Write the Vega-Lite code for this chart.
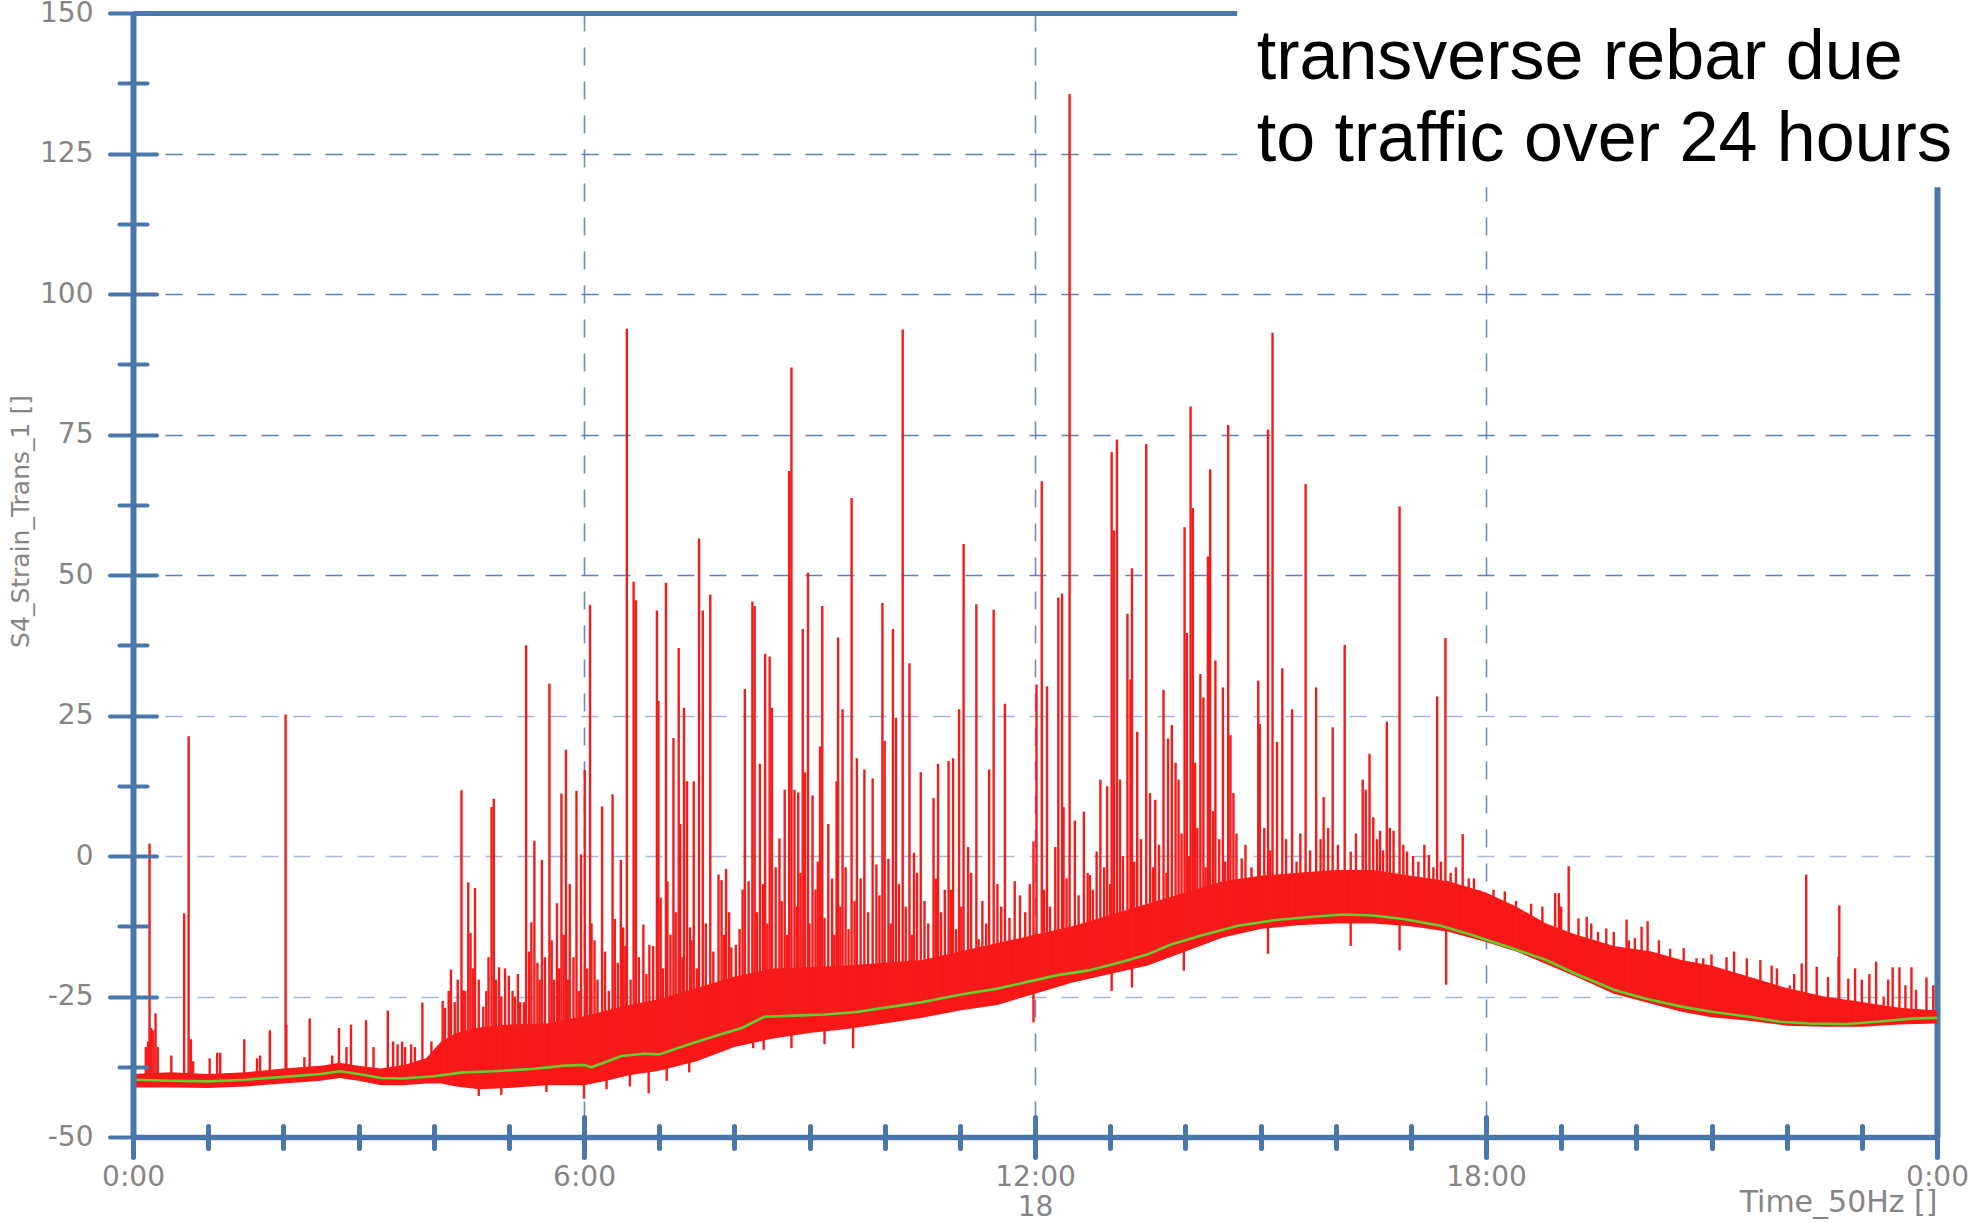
{
  "$schema": "https://vega.github.io/schema/vega-lite/v6.json",
  "width": 1804,
  "height": 1124,
  "autosize": "none",
  "padding": {"left": 133, "top": 13, "right": 33, "bottom": 86},
  "background": "white",
  "config": {
    "view": {"stroke": null},
    "axis": {"titleFontWeight": "normal", "labelFont": "DejaVu Sans", "titleFont": "DejaVu Sans"}
  },
  "datasets": {
    "trend": [
      {"t": 0, "v": -39.8}, {"t": 0.5, "v": -40.0}, {"t": 1, "v": -40.1}, {"t": 1.5, "v": -39.8},
      {"t": 2, "v": -39.3}, {"t": 2.5, "v": -38.8}, {"t": 2.75, "v": -38.3}, {"t": 3.0, "v": -38.8},
      {"t": 3.3, "v": -39.5}, {"t": 3.6, "v": -39.6}, {"t": 4.0, "v": -39.2}, {"t": 4.4, "v": -38.5},
      {"t": 4.8, "v": -38.3}, {"t": 5.3, "v": -37.9}, {"t": 5.75, "v": -37.3}, {"t": 6.0, "v": -37.2},
      {"t": 6.1, "v": -37.6}, {"t": 6.5, "v": -35.6}, {"t": 6.8, "v": -35.2}, {"t": 7.0, "v": -35.3},
      {"t": 7.4, "v": -33.5}, {"t": 7.8, "v": -31.8}, {"t": 8.1, "v": -30.6}, {"t": 8.4, "v": -28.6},
      {"t": 8.8, "v": -28.4}, {"t": 9.2, "v": -28.2}, {"t": 9.6, "v": -27.8}, {"t": 10.1, "v": -26.8},
      {"t": 10.5, "v": -26.0}, {"t": 11.0, "v": -24.7}, {"t": 11.5, "v": -23.6}, {"t": 11.9, "v": -22.4},
      {"t": 12.3, "v": -21.2}, {"t": 12.7, "v": -20.4}, {"t": 13.2, "v": -18.7}, {"t": 13.5, "v": -17.5},
      {"t": 13.8, "v": -15.8}, {"t": 14.2, "v": -14.2}, {"t": 14.7, "v": -12.4}, {"t": 15.2, "v": -11.4},
      {"t": 15.7, "v": -10.8}, {"t": 16.1, "v": -10.4}, {"t": 16.5, "v": -10.6}, {"t": 16.9, "v": -11.2},
      {"t": 17.4, "v": -12.4}, {"t": 17.8, "v": -14.0}, {"t": 18.3, "v": -16.2}, {"t": 18.8, "v": -18.5},
      {"t": 19.2, "v": -21.0}, {"t": 19.7, "v": -23.8}, {"t": 20.1, "v": -25.3}, {"t": 20.6, "v": -26.8},
      {"t": 21.0, "v": -27.7}, {"t": 21.5, "v": -28.6}, {"t": 21.9, "v": -29.5}, {"t": 22.3, "v": -29.8},
      {"t": 22.8, "v": -29.9}, {"t": 23.2, "v": -29.5}, {"t": 23.7, "v": -28.9}, {"t": 24.0, "v": -28.8}
    ],
    "band": [
      {"t": 0, "lo": -41.2, "hi": -38.8}, {"t": 0.5, "lo": -41.2, "hi": -38.5}, {"t": 1, "lo": -41.3, "hi": -38.8},
      {"t": 1.5, "lo": -41.0, "hi": -38.5}, {"t": 2, "lo": -40.5, "hi": -37.8}, {"t": 2.5, "lo": -40.0, "hi": -37.3},
      {"t": 2.75, "lo": -39.5, "hi": -36.8}, {"t": 3.0, "lo": -40.0, "hi": -37.3}, {"t": 3.3, "lo": -40.8, "hi": -37.8},
      {"t": 3.6, "lo": -40.8, "hi": -37.2}, {"t": 3.9, "lo": -40.5, "hi": -36.0}, {"t": 4.1, "lo": -40.5, "hi": -33.0},
      {"t": 4.3, "lo": -41.0, "hi": -31.5}, {"t": 4.6, "lo": -41.5, "hi": -30.5}, {"t": 5.0, "lo": -41.3, "hi": -30.0},
      {"t": 5.5, "lo": -40.8, "hi": -29.8}, {"t": 6.0, "lo": -40.8, "hi": -28.5}, {"t": 6.3, "lo": -40.0, "hi": -27.5},
      {"t": 6.6, "lo": -39.0, "hi": -26.5}, {"t": 7.0, "lo": -38.2, "hi": -25.5}, {"t": 7.5, "lo": -36.5, "hi": -23.5},
      {"t": 8.0, "lo": -34.0, "hi": -21.5}, {"t": 8.5, "lo": -32.5, "hi": -20.0}, {"t": 9.0, "lo": -31.5, "hi": -19.8},
      {"t": 9.5, "lo": -30.8, "hi": -19.5}, {"t": 10.0, "lo": -29.8, "hi": -19.0}, {"t": 10.5, "lo": -28.8, "hi": -18.5},
      {"t": 11.0, "lo": -27.5, "hi": -17.0}, {"t": 11.5, "lo": -26.5, "hi": -15.5}, {"t": 12.0, "lo": -24.5, "hi": -14.0},
      {"t": 12.5, "lo": -22.5, "hi": -12.5}, {"t": 13.0, "lo": -21.0, "hi": -10.5}, {"t": 13.5, "lo": -19.5, "hi": -8.5},
      {"t": 14.0, "lo": -17.0, "hi": -6.5}, {"t": 14.5, "lo": -14.5, "hi": -4.5}, {"t": 15.0, "lo": -13.0, "hi": -3.5},
      {"t": 15.5, "lo": -12.3, "hi": -3.0}, {"t": 16.0, "lo": -12.0, "hi": -2.5}, {"t": 16.5, "lo": -12.0, "hi": -2.5},
      {"t": 17.0, "lo": -12.5, "hi": -3.5}, {"t": 17.5, "lo": -13.5, "hi": -4.5}, {"t": 18.0, "lo": -15.3, "hi": -6.5},
      {"t": 18.4, "lo": -17.0, "hi": -9.0}, {"t": 18.8, "lo": -19.2, "hi": -12.0}, {"t": 19.2, "lo": -21.5, "hi": -14.0},
      {"t": 19.7, "lo": -24.5, "hi": -16.0}, {"t": 20.2, "lo": -26.3, "hi": -17.0}, {"t": 20.6, "lo": -27.7, "hi": -18.5},
      {"t": 21.0, "lo": -28.7, "hi": -19.5}, {"t": 21.5, "lo": -29.3, "hi": -21.5}, {"t": 22.0, "lo": -30.2, "hi": -23.5},
      {"t": 22.5, "lo": -30.4, "hi": -25.0}, {"t": 23.0, "lo": -30.4, "hi": -26.0}, {"t": 23.5, "lo": -30.0, "hi": -27.0},
      {"t": 24.0, "lo": -29.8, "hi": -27.5}
    ],
    "spikes": [
      {"t": 0.17, "lo": -40, "hi": -34}, {"t": 0.2, "lo": -40, "hi": -33}, {"t": 0.22, "lo": -40, "hi": 2.2},
      {"t": 0.24, "lo": -40, "hi": -30.6}, {"t": 0.27, "lo": -40, "hi": -31}, {"t": 0.3, "lo": -40, "hi": -28},
      {"t": 0.33, "lo": -40, "hi": -34}, {"t": 0.51, "lo": -40, "hi": -35.5}, {"t": 0.68, "lo": -40, "hi": -10.2},
      {"t": 0.74, "lo": -40, "hi": 21.3}, {"t": 0.77, "lo": -40, "hi": -32.6}, {"t": 0.8, "lo": -40, "hi": -36.5},
      {"t": 1.02, "lo": -40, "hi": -36}, {"t": 1.12, "lo": -40, "hi": -35}, {"t": 1.16, "lo": -40, "hi": -35},
      {"t": 1.48, "lo": -40, "hi": -32.6}, {"t": 1.65, "lo": -39.8, "hi": -36}, {"t": 1.69, "lo": -39.8, "hi": -35.5},
      {"t": 1.82, "lo": -39.6, "hi": -31}, {"t": 2.03, "lo": -39.3, "hi": 25.2}, {"t": 2.04, "lo": -39.3, "hi": -30},
      {"t": 2.28, "lo": -39, "hi": -35.8}, {"t": 2.35, "lo": -39, "hi": -28.9}, {"t": 2.65, "lo": -38.5, "hi": -35.5},
      {"t": 2.74, "lo": -38.3, "hi": -30.6}, {"t": 2.84, "lo": -38.4, "hi": -34}, {"t": 2.9, "lo": -38.5, "hi": -30},
      {"t": 3.1, "lo": -39, "hi": -29.2}, {"t": 3.2, "lo": -39.3, "hi": -34}, {"t": 3.39, "lo": -39.5, "hi": -27.5},
      {"t": 3.46, "lo": -39.5, "hi": -33}, {"t": 3.52, "lo": -39.5, "hi": -33.5}, {"t": 3.58, "lo": -39.5, "hi": -33},
      {"t": 3.62, "lo": -39.5, "hi": -34}, {"t": 3.7, "lo": -39.5, "hi": -33.5}, {"t": 3.75, "lo": -39.5, "hi": -34},
      {"t": 3.85, "lo": -39.3, "hi": -26.1}, {"t": 3.97, "lo": -39.2, "hi": -33},
      {"t": 4.12, "lo": -39, "hi": -25.8}, {"t": 4.23, "lo": -39, "hi": -20.2}, {"t": 4.37, "lo": -38.6, "hi": 11.7},
      {"t": 4.39, "lo": -38.6, "hi": -23.9}, {"t": 4.46, "lo": -38.5, "hi": -4.7}, {"t": 4.49, "lo": -38.5, "hi": -13.7},
      {"t": 4.55, "lo": -38.5, "hi": -5.7}, {"t": 4.66, "lo": -38.4, "hi": -26.8}, {"t": 4.77, "lo": -38.4, "hi": 8.7},
      {"t": 4.8, "lo": -38.4, "hi": 10.2}, {"t": 4.87, "lo": -38.3, "hi": -19.8}, {"t": 5.0, "lo": -38.2, "hi": -21.3},
      {"t": 5.08, "lo": -38.1, "hi": -25}, {"t": 5.15, "lo": -38, "hi": -26}, {"t": 5.23, "lo": -38, "hi": 37.5},
      {"t": 5.3, "lo": -37.9, "hi": -11.8}, {"t": 5.34, "lo": -37.9, "hi": 2.7}, {"t": 5.38, "lo": -37.9, "hi": -19},
      {"t": 5.44, "lo": -37.8, "hi": -0.7}, {"t": 5.54, "lo": -37.6, "hi": 30.7}, {"t": 5.6, "lo": -37.5, "hi": -22},
      {"t": 5.64, "lo": -37.5, "hi": -8.4}, {"t": 5.7, "lo": -37.4, "hi": 11.1}, {"t": 5.76, "lo": -37.3, "hi": 18.9},
      {"t": 5.81, "lo": -37.3, "hi": -5}, {"t": 5.9, "lo": -37.2, "hi": 11.6}, {"t": 5.96, "lo": -37.2, "hi": 0.3},
      {"t": 6.01, "lo": -37.2, "hi": 15.3}, {"t": 6.08, "lo": -37.4, "hi": 44.7}, {"t": 6.14, "lo": -37.5, "hi": -15},
      {"t": 6.24, "lo": -37, "hi": 8.8}, {"t": 6.38, "lo": -36.2, "hi": 11}, {"t": 6.41, "lo": -36, "hi": -11.2},
      {"t": 6.49, "lo": -35.8, "hi": -0.7}, {"t": 6.52, "lo": -35.7, "hi": -12.7}, {"t": 6.57, "lo": -35.6, "hi": 93.8},
      {"t": 6.66, "lo": -35.4, "hi": 48.8}, {"t": 6.69, "lo": -35.3, "hi": 45.5}, {"t": 6.79, "lo": -35.2, "hi": -12.2},
      {"t": 6.87, "lo": -35.2, "hi": -15.8}, {"t": 6.97, "lo": -35.2, "hi": 43.7}, {"t": 6.99, "lo": -35.2, "hi": 27.6},
      {"t": 7.02, "lo": -35.3, "hi": -7.4}, {"t": 7.09, "lo": -35.3, "hi": 48.6}, {"t": 7.11, "lo": -35.2, "hi": -4.5},
      {"t": 7.19, "lo": -34.8, "hi": 21}, {"t": 7.26, "lo": -34.4, "hi": 37}, {"t": 7.28, "lo": -34.3, "hi": 5.7},
      {"t": 7.33, "lo": -34, "hi": 26.4}, {"t": 7.37, "lo": -33.8, "hi": 13.3}, {"t": 7.41, "lo": -33.6, "hi": -12.7},
      {"t": 7.46, "lo": -33.4, "hi": 13.3}, {"t": 7.53, "lo": -33.1, "hi": 56.5}, {"t": 7.58, "lo": -32.9, "hi": 43.7},
      {"t": 7.68, "lo": -32.4, "hi": 46.5}, {"t": 7.79, "lo": -31.9, "hi": -3.3}, {"t": 7.83, "lo": -31.7, "hi": -4.3},
      {"t": 7.89, "lo": -31.4, "hi": -2.3}, {"t": 7.96, "lo": -31.1, "hi": -16.3}, {"t": 8.02, "lo": -30.9, "hi": -15.8},
      {"t": 8.14, "lo": -30.4, "hi": 29.7}, {"t": 8.19, "lo": -30.1, "hi": -4.5}, {"t": 8.24, "lo": -29.8, "hi": 45.3},
      {"t": 8.27, "lo": -29.6, "hi": 44.5}, {"t": 8.34, "lo": -29.2, "hi": 16.4}, {"t": 8.41, "lo": -28.7, "hi": 36},
      {"t": 8.47, "lo": -28.6, "hi": 35.5}, {"t": 8.5, "lo": -28.6, "hi": 26.4}, {"t": 8.6, "lo": -28.5, "hi": 3.1},
      {"t": 8.67, "lo": -28.5, "hi": 11.8}, {"t": 8.73, "lo": -28.4, "hi": 68.5}, {"t": 8.76, "lo": -28.4, "hi": 86.9},
      {"t": 8.8, "lo": -28.4, "hi": 11.8}, {"t": 8.85, "lo": -28.4, "hi": 11.3}, {"t": 8.91, "lo": -28.3, "hi": 40.4},
      {"t": 8.94, "lo": -28.3, "hi": 14.9}, {"t": 8.98, "lo": -28.3, "hi": 50.4}, {"t": 9.04, "lo": -28.3, "hi": 10.8},
      {"t": 9.14, "lo": -28.2, "hi": 19.5}, {"t": 9.17, "lo": -28.2, "hi": 44.5}, {"t": 9.25, "lo": -28.1, "hi": 5.7},
      {"t": 9.36, "lo": -28, "hi": 13.3}, {"t": 9.38, "lo": -28, "hi": 38.9}, {"t": 9.44, "lo": -27.9, "hi": 26.1},
      {"t": 9.56, "lo": -27.8, "hi": 63.7}, {"t": 9.63, "lo": -27.7, "hi": 17.4}, {"t": 9.73, "lo": -27.5, "hi": 15.4},
      {"t": 9.84, "lo": -27.3, "hi": 13.8}, {"t": 9.89, "lo": -27.2, "hi": -1.5}, {"t": 9.97, "lo": -27, "hi": 45},
      {"t": 10.0, "lo": -27, "hi": 20.5}, {"t": 10.05, "lo": -26.9, "hi": -0.5}, {"t": 10.11, "lo": -26.8, "hi": 40.4},
      {"t": 10.15, "lo": -26.7, "hi": 24.6}, {"t": 10.24, "lo": -26.6, "hi": 93.7}, {"t": 10.33, "lo": -26.4, "hi": 34.3},
      {"t": 10.39, "lo": -26.3, "hi": 0.6}, {"t": 10.48, "lo": -26.1, "hi": 14.9}, {"t": 10.65, "lo": -25.7, "hi": 10.3},
      {"t": 10.71, "lo": -25.6, "hi": 16.4}, {"t": 10.8, "lo": -25.4, "hi": -6}, {"t": 10.85, "lo": -25.3, "hi": 16.9},
      {"t": 10.91, "lo": -25.1, "hi": 17.4}, {"t": 10.99, "lo": -24.9, "hi": 26.1}, {"t": 11.05, "lo": -24.7, "hi": 55.5},
      {"t": 11.11, "lo": -24.6, "hi": 1.6}, {"t": 11.22, "lo": -24.3, "hi": 44.8}, {"t": 11.25, "lo": -24.3, "hi": -14.8},
      {"t": 11.39, "lo": -23.9, "hi": 15.4}, {"t": 11.45, "lo": -23.8, "hi": 43.8}, {"t": 11.6, "lo": -23.4, "hi": 27.1},
      {"t": 11.73, "lo": -23, "hi": -4.5}, {"t": 11.98, "lo": -22.2, "hi": 2.6}, {"t": 12.02, "lo": -22.1, "hi": 30.5},
      {"t": 12.09, "lo": -21.9, "hi": 66.7}, {"t": 12.16, "lo": -21.7, "hi": 30.2}, {"t": 12.27, "lo": -21.3, "hi": 1.6},
      {"t": 12.31, "lo": -21.2, "hi": 46}, {"t": 12.36, "lo": -21.1, "hi": 46.7}, {"t": 12.38, "lo": -21, "hi": 8.7},
      {"t": 12.46, "lo": -20.8, "hi": 135.6}, {"t": 12.53, "lo": -20.7, "hi": 6.3}, {"t": 12.65, "lo": -20.4, "hi": 7.9},
      {"t": 12.73, "lo": -20.2, "hi": -3.4}, {"t": 12.82, "lo": -20, "hi": 0.8}, {"t": 12.87, "lo": -19.9, "hi": 13.6},
      {"t": 12.96, "lo": -19.6, "hi": 12.4}, {"t": 13.02, "lo": -19.4, "hi": 71.9}, {"t": 13.05, "lo": -19.3, "hi": 57.9},
      {"t": 13.09, "lo": -19.2, "hi": 74.1}, {"t": 13.13, "lo": -19.1, "hi": 13.6}, {"t": 13.23, "lo": -18.7, "hi": 43.1},
      {"t": 13.27, "lo": -18.6, "hi": 31.4}, {"t": 13.29, "lo": -18.5, "hi": 51.2}, {"t": 13.36, "lo": -18.1, "hi": 22.1},
      {"t": 13.48, "lo": -17.6, "hi": 73.3}, {"t": 13.53, "lo": -17.4, "hi": 11.2}, {"t": 13.6, "lo": -17, "hi": 10},
      {"t": 13.71, "lo": -16.3, "hi": 29.6}, {"t": 13.77, "lo": -16, "hi": 20.9}, {"t": 13.82, "lo": -15.7, "hi": 23.3},
      {"t": 13.87, "lo": -15.5, "hi": 16.6}, {"t": 13.91, "lo": -15.3, "hi": 13.6}, {"t": 13.99, "lo": -15, "hi": 58.5},
      {"t": 14.02, "lo": -14.9, "hi": 39.7}, {"t": 14.07, "lo": -14.6, "hi": 80}, {"t": 14.1, "lo": -14.5, "hi": 61.9},
      {"t": 14.13, "lo": -14.4, "hi": 16.6}, {"t": 14.2, "lo": -14.2, "hi": 32.4}, {"t": 14.24, "lo": -14, "hi": 28.2},
      {"t": 14.3, "lo": -13.8, "hi": 53.3}, {"t": 14.33, "lo": -13.7, "hi": 68.8}, {"t": 14.4, "lo": -13.5, "hi": 34.8},
      {"t": 14.5, "lo": -13, "hi": 30}, {"t": 14.57, "lo": -12.8, "hi": 76.7}, {"t": 14.6, "lo": -12.7, "hi": 21.5},
      {"t": 14.64, "lo": -12.6, "hi": 11.2}, {"t": 14.75, "lo": -12.3, "hi": -0.4}, {"t": 14.97, "lo": -11.9, "hi": 31.2},
      {"t": 14.99, "lo": -11.9, "hi": 23.5}, {"t": 15.1, "lo": -11.6, "hi": 75.9}, {"t": 15.16, "lo": -11.5, "hi": 93.1},
      {"t": 15.22, "lo": -11.4, "hi": 20.3}, {"t": 15.29, "lo": -11.3, "hi": 33.4}, {"t": 15.42, "lo": -11.1, "hi": 26.1},
      {"t": 15.6, "lo": -10.9, "hi": 66.2}, {"t": 15.74, "lo": -10.8, "hi": 30}, {"t": 15.84, "lo": -10.7, "hi": 10.5},
      {"t": 15.96, "lo": -10.5, "hi": 22.9}, {"t": 16.12, "lo": -10.4, "hi": 37.6}, {"t": 16.2, "lo": -10.4, "hi": 0.8},
      {"t": 16.36, "lo": -10.5, "hi": 13.6}, {"t": 16.4, "lo": -10.5, "hi": 11.8}, {"t": 16.45, "lo": -10.5, "hi": 18.2},
      {"t": 16.5, "lo": -10.6, "hi": 6.9}, {"t": 16.59, "lo": -10.7, "hi": 4.5}, {"t": 16.68, "lo": -10.8, "hi": 23.9},
      {"t": 16.77, "lo": -10.9, "hi": 4.5}, {"t": 16.85, "lo": -11, "hi": 62.2}, {"t": 16.95, "lo": -11.2, "hi": 0.8},
      {"t": 17.24, "lo": -11.9, "hi": 0.2}, {"t": 17.35, "lo": -12.2, "hi": 28.4}, {"t": 17.46, "lo": -12.5, "hi": 38.8},
      {"t": 17.69, "lo": -13.5, "hi": 3.9}, {"t": 17.84, "lo": -14, "hi": -4}, {"t": 17.92, "lo": -14, "hi": -6.1},
      {"t": 18.25, "lo": -16, "hi": -6.3}, {"t": 18.92, "lo": -19, "hi": -6.6}, {"t": 18.97, "lo": -19.2, "hi": -6.6},
      {"t": 19.1, "lo": -20, "hi": -1.8}, {"t": 19.23, "lo": -21, "hi": -11.1}, {"t": 19.34, "lo": -21.8, "hi": -10.8},
      {"t": 19.49, "lo": -22.7, "hi": -13.5}, {"t": 19.6, "lo": -23.3, "hi": -12.9}, {"t": 19.87, "lo": -24.4, "hi": -11.3},
      {"t": 19.98, "lo": -24.8, "hi": -14.6}, {"t": 20.07, "lo": -25.1, "hi": -12.6}, {"t": 20.15, "lo": -25.3, "hi": -11.6},
      {"t": 20.63, "lo": -26.9, "hi": -16.4}, {"t": 20.8, "lo": -27.2, "hi": -18.2}, {"t": 20.89, "lo": -27.4, "hi": -18.2},
      {"t": 21.47, "lo": -28.6, "hi": -18.2}, {"t": 21.65, "lo": -28.9, "hi": -18.5}, {"t": 21.87, "lo": -29.4, "hi": -20},
      {"t": 22.04, "lo": -29.6, "hi": -23}, {"t": 22.2, "lo": -29.7, "hi": -19.1}, {"t": 22.26, "lo": -29.7, "hi": -3.3},
      {"t": 22.4, "lo": -29.8, "hi": -19.7}, {"t": 22.69, "lo": -29.9, "hi": -17.9}, {"t": 22.7, "lo": -29.9, "hi": -8.8},
      {"t": 22.82, "lo": -29.9, "hi": -21.8}, {"t": 22.91, "lo": -29.8, "hi": -20}, {"t": 23.19, "lo": -29.5, "hi": -18.8},
      {"t": 23.29, "lo": -29.4, "hi": -25}, {"t": 23.41, "lo": -29.2, "hi": -19.8}, {"t": 23.5, "lo": -29.1, "hi": -19.8},
      {"t": 23.66, "lo": -28.9, "hi": -19.8}, {"t": 23.72, "lo": -28.9, "hi": -23.8}, {"t": 23.86, "lo": -28.8, "hi": -21.6},
      {"t": 4.15, "lo": -39, "hi": -27}, {"t": 4.2, "lo": -39, "hi": -24}, {"t": 4.28, "lo": -38.8, "hi": -26},
      {"t": 4.32, "lo": -38.8, "hi": -22}, {"t": 4.42, "lo": -38.6, "hi": -24}, {"t": 4.52, "lo": -38.5, "hi": -20},
      {"t": 4.6, "lo": -38.5, "hi": -22}, {"t": 4.7, "lo": -38.4, "hi": -24}, {"t": 4.73, "lo": -38.4, "hi": -18},
      {"t": 4.83, "lo": -38.3, "hi": -22}, {"t": 4.9, "lo": -38.3, "hi": -25}, {"t": 4.95, "lo": -38.2, "hi": -20},
      {"t": 5.05, "lo": -38.1, "hi": -24}, {"t": 5.12, "lo": -38, "hi": -21}, {"t": 5.2, "lo": -38, "hi": -26},
      {"t": 5.27, "lo": -37.9, "hi": -17}, {"t": 5.41, "lo": -37.8, "hi": -22}, {"t": 5.48, "lo": -37.7, "hi": -18},
      {"t": 5.57, "lo": -37.6, "hi": -15}, {"t": 5.67, "lo": -37.4, "hi": -20}, {"t": 5.73, "lo": -37.3, "hi": -14},
      {"t": 5.79, "lo": -37.3, "hi": -22}, {"t": 5.86, "lo": -37.2, "hi": -18}, {"t": 5.93, "lo": -37.2, "hi": -24},
      {"t": 6.04, "lo": -37.3, "hi": -20}, {"t": 6.1, "lo": -37.5, "hi": -12}, {"t": 6.18, "lo": -37.2, "hi": -22},
      {"t": 6.28, "lo": -36.7, "hi": -17}, {"t": 6.33, "lo": -36.5, "hi": -24}, {"t": 6.45, "lo": -36, "hi": -19},
      {"t": 6.55, "lo": -35.6, "hi": -16}, {"t": 6.62, "lo": -35.5, "hi": -22}, {"t": 6.73, "lo": -35.3, "hi": -18},
      {"t": 6.83, "lo": -35.2, "hi": -21}, {"t": 6.92, "lo": -35.2, "hi": -16}, {"t": 7.05, "lo": -35.2, "hi": -20},
      {"t": 7.15, "lo": -35, "hi": -14}, {"t": 7.22, "lo": -34.6, "hi": -10}, {"t": 7.31, "lo": -34.1, "hi": -18},
      {"t": 7.43, "lo": -33.5, "hi": -15}, {"t": 7.5, "lo": -33.2, "hi": -20}, {"t": 7.62, "lo": -32.7, "hi": -12},
      {"t": 7.72, "lo": -32.2, "hi": -17}, {"t": 7.86, "lo": -31.6, "hi": -14}, {"t": 7.93, "lo": -31.2, "hi": -10},
      {"t": 8.07, "lo": -30.7, "hi": -13}, {"t": 8.11, "lo": -30.5, "hi": -6}, {"t": 8.3, "lo": -29.4, "hi": -10},
      {"t": 8.38, "lo": -28.9, "hi": -5}, {"t": 8.44, "lo": -28.6, "hi": -12}, {"t": 8.55, "lo": -28.5, "hi": -2},
      {"t": 8.63, "lo": -28.5, "hi": -8}, {"t": 8.7, "lo": -28.4, "hi": -14}, {"t": 8.83, "lo": -28.4, "hi": -9},
      {"t": 8.88, "lo": -28.3, "hi": -3}, {"t": 9.0, "lo": -28.3, "hi": -12}, {"t": 9.08, "lo": -28.2, "hi": -6},
      {"t": 9.11, "lo": -28.2, "hi": -1}, {"t": 9.2, "lo": -28.2, "hi": -11}, {"t": 9.3, "lo": -28.1, "hi": -4},
      {"t": 9.33, "lo": -28, "hi": -14}, {"t": 9.41, "lo": -27.9, "hi": -9}, {"t": 9.48, "lo": -27.9, "hi": -2},
      {"t": 9.52, "lo": -27.8, "hi": -13}, {"t": 9.6, "lo": -27.8, "hi": -8}, {"t": 9.68, "lo": -27.6, "hi": -4},
      {"t": 9.78, "lo": -27.4, "hi": -10}, {"t": 9.93, "lo": -27.1, "hi": -7}, {"t": 10.08, "lo": -26.8, "hi": -12},
      {"t": 10.19, "lo": -26.6, "hi": -5}, {"t": 10.28, "lo": -26.5, "hi": -9}, {"t": 10.36, "lo": -26.3, "hi": -14},
      {"t": 10.43, "lo": -26.2, "hi": -3}, {"t": 10.53, "lo": -26, "hi": -8}, {"t": 10.58, "lo": -25.9, "hi": -12},
      {"t": 10.68, "lo": -25.6, "hi": -4}, {"t": 10.75, "lo": -25.5, "hi": -10}, {"t": 10.88, "lo": -25.2, "hi": -6},
      {"t": 10.95, "lo": -25, "hi": -13}, {"t": 11.02, "lo": -24.7, "hi": -9}, {"t": 11.15, "lo": -24.4, "hi": -3},
      {"t": 11.3, "lo": -24.1, "hi": -8}, {"t": 11.35, "lo": -24, "hi": -12}, {"t": 11.5, "lo": -23.6, "hi": -5},
      {"t": 11.55, "lo": -23.5, "hi": -9}, {"t": 11.66, "lo": -23.2, "hi": -11}, {"t": 11.8, "lo": -22.7, "hi": -7},
      {"t": 11.87, "lo": -22.5, "hi": -10}, {"t": 11.93, "lo": -22.3, "hi": -5}, {"t": 12.12, "lo": -21.8, "hi": -6},
      {"t": 12.2, "lo": -21.5, "hi": -9}, {"t": 12.42, "lo": -20.9, "hi": -4}, {"t": 12.58, "lo": -20.6, "hi": -7},
      {"t": 12.7, "lo": -20.4, "hi": -3}, {"t": 12.77, "lo": -20.1, "hi": -6}, {"t": 12.92, "lo": -19.8, "hi": -2},
      {"t": 13.0, "lo": -19.4, "hi": -5}, {"t": 13.17, "lo": -18.9, "hi": 0}, {"t": 13.32, "lo": -18.3, "hi": -1},
      {"t": 13.41, "lo": -17.9, "hi": 3}, {"t": 13.57, "lo": -17.1, "hi": -2}, {"t": 13.65, "lo": -16.7, "hi": 2},
      {"t": 13.75, "lo": -16.1, "hi": -3}, {"t": 13.95, "lo": -15.1, "hi": 4}, {"t": 14.05, "lo": -14.7, "hi": 0},
      {"t": 14.16, "lo": -14.3, "hi": 5}, {"t": 14.27, "lo": -13.9, "hi": -2}, {"t": 14.37, "lo": -13.6, "hi": 8},
      {"t": 14.45, "lo": -13.2, "hi": 3}, {"t": 14.53, "lo": -12.9, "hi": -1}, {"t": 14.68, "lo": -12.5, "hi": 4},
      {"t": 14.8, "lo": -12.2, "hi": 2}, {"t": 14.88, "lo": -12, "hi": -2}, {"t": 15.05, "lo": -11.7, "hi": 5},
      {"t": 15.13, "lo": -11.6, "hi": 1}, {"t": 15.34, "lo": -11.2, "hi": 3}, {"t": 15.48, "lo": -11, "hi": -1},
      {"t": 15.53, "lo": -11, "hi": 4}, {"t": 15.66, "lo": -10.8, "hi": 1}, {"t": 15.8, "lo": -10.7, "hi": 3},
      {"t": 15.9, "lo": -10.6, "hi": 5}, {"t": 16.03, "lo": -10.5, "hi": 2}, {"t": 16.27, "lo": -10.4, "hi": 4},
      {"t": 16.55, "lo": -10.6, "hi": 3}, {"t": 16.63, "lo": -10.7, "hi": 1}, {"t": 16.72, "lo": -10.8, "hi": 5},
      {"t": 16.9, "lo": -11.1, "hi": 2}, {"t": 17.03, "lo": -11.4, "hi": 0}, {"t": 17.1, "lo": -11.6, "hi": -1},
      {"t": 17.18, "lo": -11.8, "hi": 2}, {"t": 17.3, "lo": -12.1, "hi": -2}, {"t": 17.4, "lo": -12.4, "hi": -1},
      {"t": 17.53, "lo": -12.8, "hi": -3}, {"t": 17.6, "lo": -13.1, "hi": -2}, {"t": 17.77, "lo": -13.8, "hi": -4},
      {"t": 18.1, "lo": -15.3, "hi": -6}, {"t": 18.4, "lo": -16.8, "hi": -8}, {"t": 18.6, "lo": -17.6, "hi": -8.5},
      {"t": 18.75, "lo": -18.3, "hi": -9}, {"t": 19.0, "lo": -19.7, "hi": -9}, {"t": 19.4, "lo": -22.2, "hi": -12},
      {"t": 19.7, "lo": -23.8, "hi": -13.5}, {"t": 19.9, "lo": -24.5, "hi": -15}, {"t": 20.3, "lo": -25.9, "hi": -15},
      {"t": 20.45, "lo": -26.3, "hi": -16.5}, {"t": 21.0, "lo": -27.7, "hi": -17.5}, {"t": 21.2, "lo": -28.1, "hi": -18},
      {"t": 21.3, "lo": -28.3, "hi": -17}, {"t": 21.8, "lo": -29.3, "hi": -19.5}, {"t": 22.1, "lo": -29.7, "hi": -21},
      {"t": 22.55, "lo": -29.9, "hi": -21.5}, {"t": 23.0, "lo": -29.7, "hi": -22}, {"t": 23.1, "lo": -29.6, "hi": -21},
      {"t": 23.35, "lo": -29.3, "hi": -22}, {"t": 23.58, "lo": -29, "hi": -23}, {"t": 23.95, "lo": -28.8, "hi": -23},
      {"t": 4.6, "lo": -42.7, "hi": -39}, {"t": 4.9, "lo": -42.5, "hi": -39}, {"t": 5.5, "lo": -42, "hi": -38.5},
      {"t": 6.0, "lo": -43.2, "hi": -38.5}, {"t": 6.3, "lo": -41.5, "hi": -38}, {"t": 6.61, "lo": -41, "hi": -37.5},
      {"t": 6.86, "lo": -42.2, "hi": -36.5}, {"t": 7.1, "lo": -40, "hi": -36.5}, {"t": 7.4, "lo": -38.5, "hi": -35},
      {"t": 8.25, "lo": -34.2, "hi": -31}, {"t": 8.39, "lo": -34.5, "hi": -30.5}, {"t": 8.76, "lo": -34.2, "hi": -30},
      {"t": 9.2, "lo": -33.5, "hi": -30}, {"t": 9.58, "lo": -34.2, "hi": -29.5}, {"t": 11.98, "lo": -29.6, "hi": -23.5},
      {"t": 13.02, "lo": -24, "hi": -20}, {"t": 13.29, "lo": -23.4, "hi": -19}, {"t": 13.98, "lo": -20.4, "hi": -16},
      {"t": 15.1, "lo": -17.4, "hi": -12.5}, {"t": 16.2, "lo": -16, "hi": -11.5}, {"t": 16.85, "lo": -16.8, "hi": -12},
      {"t": 17.47, "lo": -22.9, "hi": -13}
    ]
  },
  "layer": [
    {
      "data": {"name": "band"},
      "mark": {"type": "area", "color": "#f81616", "interpolate": "linear"},
      "encoding": {
        "x": {
          "field": "t", "type": "quantitative",
          "scale": {"domain": [0, 24], "nice": false, "zero": false},
          "axis": {
            "orient": "bottom", "values": [0, 6, 12, 18, 24],
            "labelExpr": "datum.value == 24 ? '0:00' : datum.value == 12 ? ['12:00', '18'] : datum.value + ':00'",
            "ticks": false, "tickSize": 0, "grid": false,
            "domainColor": "#4a77ab", "domainWidth": 5.5,
            "labelPadding": 26, "labelFontSize": 28, "labelColor": "#858585",
            "labelLineHeight": 30, "labelFlush": false, "labelOverlap": false, "labelBaseline": "top",
            "title": "Time_50Hz []", "titleFontSize": 30, "titleColor": "#858585",
            "titleAnchor": "end", "titleAlign": "right", "titleBaseline": "alphabetic", "titleY": 74,
            "zindex": 1
          }
        },
        "y": {
          "field": "lo", "type": "quantitative",
          "scale": {"domain": [-50, 150], "nice": false, "zero": false},
          "axis": {
            "orient": "left", "values": [-50, -25, 0, 25, 50, 75, 100, 125, 150],
            "labelExpr": "'' + datum.value",
            "ticks": false, "tickSize": 0, "grid": false,
            "domainColor": "#4a77ab", "domainWidth": 6,
            "labelPadding": 40, "labelFontSize": 28, "labelColor": "#858585",
            "labelFlush": false, "labelOverlap": false,
            "title": "S4_Strain_Trans_1 []", "titleFontSize": 25, "titleColor": "#858585",
            "titleX": -113, "titleY": 508, "titleAlign": "center", "titleBaseline": "middle", "titleAngle": -90,
            "zindex": 1
          }
        },
        "y2": {"field": "hi"}
      }
    },
    {
      "data": {"name": "spikes"},
      "mark": {"type": "rule", "color": "#f51b1b", "strokeWidth": 2.4},
      "encoding": {
        "x": {
          "field": "t", "type": "quantitative",
          "axis": {
            "orient": "bottom", "values": [6, 12, 18], "grid": true, "gridDash": [18, 16],
            "gridColor": "#6a8fbd", "gridWidth": 1.6,
            "domain": false, "ticks": false, "labels": false, "title": null
          }
        },
        "y": {
          "field": "lo", "type": "quantitative",
          "axis": {
            "orient": "left", "values": [-25, 0, 25, 50, 75, 100, 125], "grid": true, "gridDash": [17, 15],
            "gridColor": {"condition": {"test": "datum.value >= 50", "value": "#5a83b3"}, "value": "#a3b8d4"},
            "gridWidth": 1.6,
            "domain": false, "ticks": false, "labels": false, "title": null
          }
        },
        "y2": {"field": "hi"}
      }
    },
    {
      "data": {"name": "trend"},
      "mark": {"type": "line", "color": "#62cf2e", "strokeWidth": 2.6},
      "encoding": {
        "x": {
          "field": "t", "type": "quantitative",
          "axis": {
            "orient": "bottom", "values": [0, 6, 12, 18, 24], "offset": -20, "tickSize": 40,
            "tickColor": "#4a77ab", "tickWidth": 5, "tickCap": "round",
            "domain": false, "labels": false, "grid": false, "title": null, "zindex": 1
          }
        },
        "y": {
          "field": "v", "type": "quantitative",
          "axis": {
            "orient": "left", "values": [-50, -25, 0, 25, 50, 75, 100, 125, 150], "offset": -23.5, "tickSize": 47,
            "tickColor": "#4a77ab", "tickWidth": 4, "tickCap": "round",
            "domain": false, "labels": false, "grid": false, "title": null, "zindex": 1
          }
        }
      }
    },
    {
      "data": {"values": [{"box": "note"}]},
      "mark": {"type": "rect", "fill": "white"},
      "encoding": {
        "x": {
          "datum": 14.69, "type": "quantitative",
          "axis": {
            "orient": "bottom", "values": [1, 2, 3, 4, 5, 7, 8, 9, 10, 11, 13, 14, 15, 16, 17, 19, 20, 21, 22, 23],
            "offset": -11, "tickSize": 22, "tickColor": "#4a77ab", "tickWidth": 5, "tickCap": "round",
            "domain": false, "labels": false, "grid": false, "title": null, "zindex": 1
          }
        },
        "x2": {"datum": 25.5},
        "y": {
          "datum": 119, "type": "quantitative",
          "axis": {
            "orient": "left", "values": [-37.5, -12.5, 12.5, 37.5, 62.5, 87.5, 112.5, 137.5],
            "offset": -14, "tickSize": 28, "tickColor": "#4a77ab", "tickWidth": 4, "tickCap": "round",
            "domain": false, "labels": false, "grid": false, "title": null, "zindex": 1
          }
        },
        "y2": {"datum": 160}
      }
    },
    {
      "data": {"values": [{"note": "transverse rebar due\nto traffic over 24 hours"}]},
      "mark": {
        "type": "text", "align": "left", "baseline": "alphabetic",
        "font": "Liberation Sans", "fontSize": 70, "lineHeight": 82, "lineBreak": "\n", "color": "black"
      },
      "encoding": {
        "x": {
          "datum": 14.95, "type": "quantitative",
          "axis": {
            "orient": "top", "domainColor": "#4a77ab", "domainWidth": 5,
            "ticks": false, "labels": false, "grid": false, "title": null, "zindex": 0
          }
        },
        "y": {
          "datum": 138.3, "type": "quantitative",
          "axis": {
            "orient": "right", "domainColor": "#4a77ab", "domainWidth": 6,
            "ticks": false, "labels": false, "grid": false, "title": null, "zindex": 0
          }
        },
        "text": {"field": "note"}
      }
    }
  ],
  "resolve": {"axis": {"x": "independent", "y": "independent"}}
}
